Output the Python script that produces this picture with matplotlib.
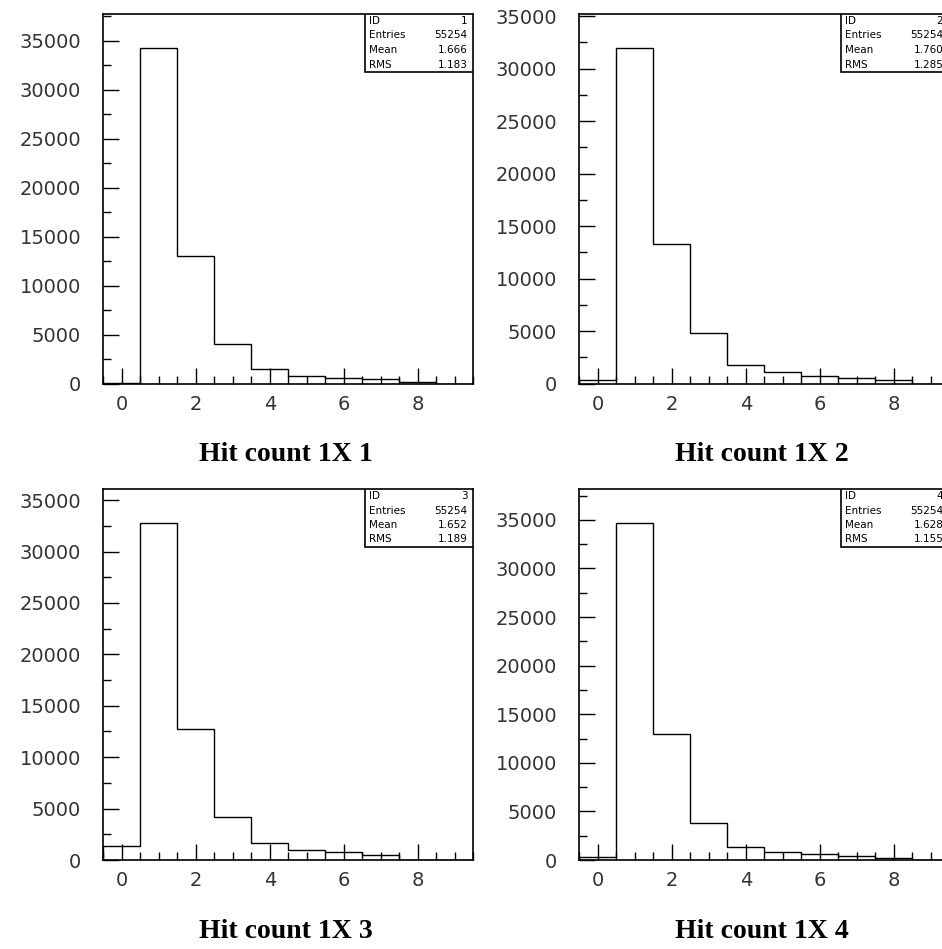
import numpy as np
import matplotlib
matplotlib.use("Agg")
import matplotlib.pyplot as plt
from matplotlib.ticker import MultipleLocator, FormatStrFormatter

# Bin contents for the four hit-count histograms (bins centred on 0..9)
bin_centres = np.arange(10)
hits_1 = [60, 34300, 13000, 4020, 1440, 790, 580, 415, 170, 0]
hits_2 = [355, 32000, 13260, 4770, 1800, 1060, 740, 520, 355, 0]
hits_3 = [1390, 32800, 12740, 4150, 1680, 970, 750, 490, 0, 0]
hits_4 = [360, 34700, 13000, 3820, 1320, 800, 625, 450, 180, 0]

hist_ids = [1, 2, 3, 4]
entries = [55254, 55254, 55254, 55254]
means = ["1.666", "1.760", "1.652", "1.628"]
rms = ["1.183", "1.285", "1.189", "1.155"]
titles = ["Hit count 1X 1", "Hit count 1X 2", "Hit count 1X 3", "Hit count 1X 4"]

W, H = 942, 949
fig = plt.figure(figsize=(W / 100, H / 100), dpi=100)

# panel frames in pixels: left, bottom, width, height
panels = [
    (103.3, 383.5, 370, 369.5),
    (579.3, 383.5, 370, 369.5),
    (103.3, 860, 370, 371),
    (579.3, 860, 370, 371),
]
title_y = [455, 455, 931, 931]

edges = np.append(bin_centres - 0.5, bin_centres[-1] + 0.5)
label_font = {"family": "DejaVu Sans", "size": 14, "color": "#333333"}


def draw_panel(rect, counts, hid, n, mean, r, title, ty):
    left, bottom, w, h = rect
    ax = fig.add_axes([left / W, 1 - bottom / H, w / W, h / H])
    ax.stairs(counts, edges, color="black", lw=1.0, baseline=0)
    ax.set_xlim(edges[0], edges[-1])
    ax.set_ylim(0, 1.1 * max(counts))

    ax.xaxis.set_major_locator(MultipleLocator(2))
    ax.xaxis.set_minor_locator(MultipleLocator(0.5))
    ax.yaxis.set_major_locator(MultipleLocator(5000))
    ax.yaxis.set_minor_locator(MultipleLocator(2500))
    ax.yaxis.set_major_formatter(FormatStrFormatter("%d"))
    ax.tick_params(which="both", direction="in", top=False, right=False, width=1)
    ax.tick_params(which="major", length=11.5)
    ax.tick_params(which="minor", length=5.5)
    ax.tick_params(axis="y", pad=16)
    ax.tick_params(axis="x", pad=8)
    for lab in ax.get_xticklabels() + ax.get_yticklabels():
        lab.set_fontfamily(label_font["family"])
        lab.set_fontsize(label_font["size"])
        lab.set_color(label_font["color"])
    for sp in ax.spines.values():
        sp.set_linewidth(1.2)

    # statistics box in the upper right corner
    bw, bh = 108 / w, 58 / h
    x0, y0 = 1 - bw, 1 - bh
    ax.add_patch(plt.Rectangle((x0, y0), bw, bh, transform=ax.transAxes,
                               facecolor="white", edgecolor="black", lw=1.2, zorder=5))
    rows = [("ID", str(hid)), ("Entries", str(n)), ("Mean", mean), ("RMS", r)]
    for i, (k, v) in enumerate(rows):
        yy = 1 - (7 + 14.5 * i) / h
        ax.text(x0 + 4 / w, yy, k, transform=ax.transAxes, fontsize=7.5,
                family="DejaVu Sans", va="center", ha="left", zorder=6)
        ax.text(1 - 6 / w, yy, v, transform=ax.transAxes, fontsize=7.5,
                family="DejaVu Sans", va="center", ha="right", zorder=6)

    fig.text((left + w / 2 - 2) / W, 1 - ty / H, title, ha="center", va="center",
             family="Liberation Serif", fontweight="bold", fontsize=20)
    return ax


all_hits = [hits_1, hits_2, hits_3, hits_4]
for k in range(4):
    draw_panel(panels[k], all_hits[k], hist_ids[k], entries[k], means[k], rms[k],
               titles[k], title_y[k])

fig.savefig("out.png", dpi=100, facecolor="white")
